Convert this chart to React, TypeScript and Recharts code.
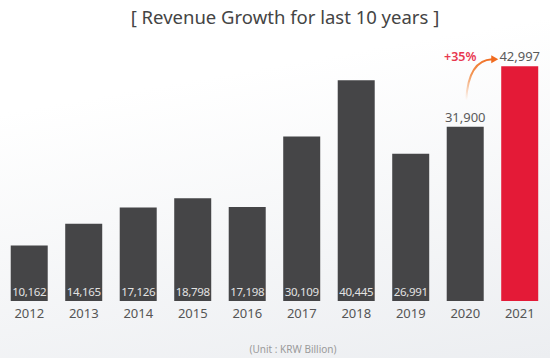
import { BarChart, Bar, XAxis, YAxis, Cell, LabelList } from "recharts";

const years = ["2012", "2013", "2014", "2015", "2016", "2017", "2018", "2019", "2020", "2021"];
const revenue = [10162, 14165, 17126, 18798, 17198, 30109, 40445, 26991, 31900, 42997];
const growthText = "+35%";

const data = years.map((year, i) => ({ year, revenue: revenue[i] }));

const DARK = "#454547";
const RED = "#e41a37";
const FONT = "'Noto Sans', sans-serif";

const fmt = (v: number) => Number(v).toLocaleString("en-US");

// labels inside the bar bottom, except last two which sit on top
function ValueLabel(props: any) {
  const { x, y, width, height, value, index } = props;
  const cx = x + width / 2;
  const last = data.length - 1;
  if (index >= last - 1) {
    return (
      <g>
        <text x={cx} y={y - 5} textAnchor="middle" fill="#5a5a5a" fontSize={13} fontFamily={FONT}>
          {fmt(value)}
        </text>
        {index === last && (
          <g>
            <defs>
              <linearGradient
                id="arrowGrad"
                gradientUnits="userSpaceOnUse"
                x1={x - 35}
                y1={y + 34}
                x2={x - 8}
                y2={y - 7}
              >
                <stop offset="0" stopColor="#f07a28" stopOpacity={0} />
                <stop offset="0.5" stopColor="#f07a28" stopOpacity={0.8} />
                <stop offset="1" stopColor="#f06a1e" stopOpacity={1} />
              </linearGradient>
            </defs>
            <path
              d={`M${x - 35},${y + 34} Q${x - 33},${y - 6} ${x - 9},${y - 7}`}
              fill="none"
              stroke="url(#arrowGrad)"
              strokeWidth={2}
            />
            <polygon
              points={`${x - 3},${y - 7} ${x - 10},${y - 11} ${x - 10},${y - 3}`}
              fill="#f06a1e"
            />
            <text
              x={x - 41}
              y={y - 5}
              textAnchor="middle"
              fill="#e8384f"
              fontSize={12.5}
              fontWeight={600}
              fontFamily={FONT}
            >
              {growthText}
            </text>
          </g>
        )}
      </g>
    );
  }
  return (
    <text
      x={cx}
      y={y + height - 5}
      textAnchor="middle"
      fill="#e2e2e2"
      fontSize={11.5}
      letterSpacing={-0.3}
      fontFamily={FONT}
    >
      {fmt(value)}
    </text>
  );
}

export default function App() {
  return (
    <div
      style={{
        position: "absolute",
        left: 0,
        top: 0,
        width: 550,
        height: 358,
        overflow: "hidden",
        background: "linear-gradient(170deg, #ffffff 25%, #eceef1 100%)",
        fontFamily: FONT,
      }}
    >
      <div
        style={{
          position: "absolute",
          top: 4,
          left: 0,
          width: 570,
          textAlign: "center",
          fontSize: 18.5,
          color: "#444",
        }}
      >
        [ Revenue Growth for last 10 years ]
      </div>
      <BarChart
        width={550}
        height={358}
        data={data}
        margin={{ top: 28, right: 3, left: 2, bottom: 27 }}
        barCategoryGap="16%"
      >
        <XAxis
          dataKey="year"
          axisLine={false}
          tickLine={false}
          height={30}
          tickMargin={2}
          tick={{ fill: "#555", fontSize: 13, fontFamily: FONT }}
          interval={0}
        />
        <YAxis hide domain={[0, 50000]} />
        <Bar dataKey="revenue" isAnimationActive={false}>
          {data.map((d, i) => (
            <Cell key={d.year} fill={i === data.length - 1 ? RED : DARK} />
          ))}
          <LabelList dataKey="revenue" content={ValueLabel} />
        </Bar>
      </BarChart>
      <div
        style={{
          position: "absolute",
          top: 342,
          left: 0,
          width: 586,
          textAlign: "center",
          fontSize: 10,
          color: "#9a9a9a",
        }}
      >
        (Unit : KRW Billion)
      </div>
    </div>
  );
}
